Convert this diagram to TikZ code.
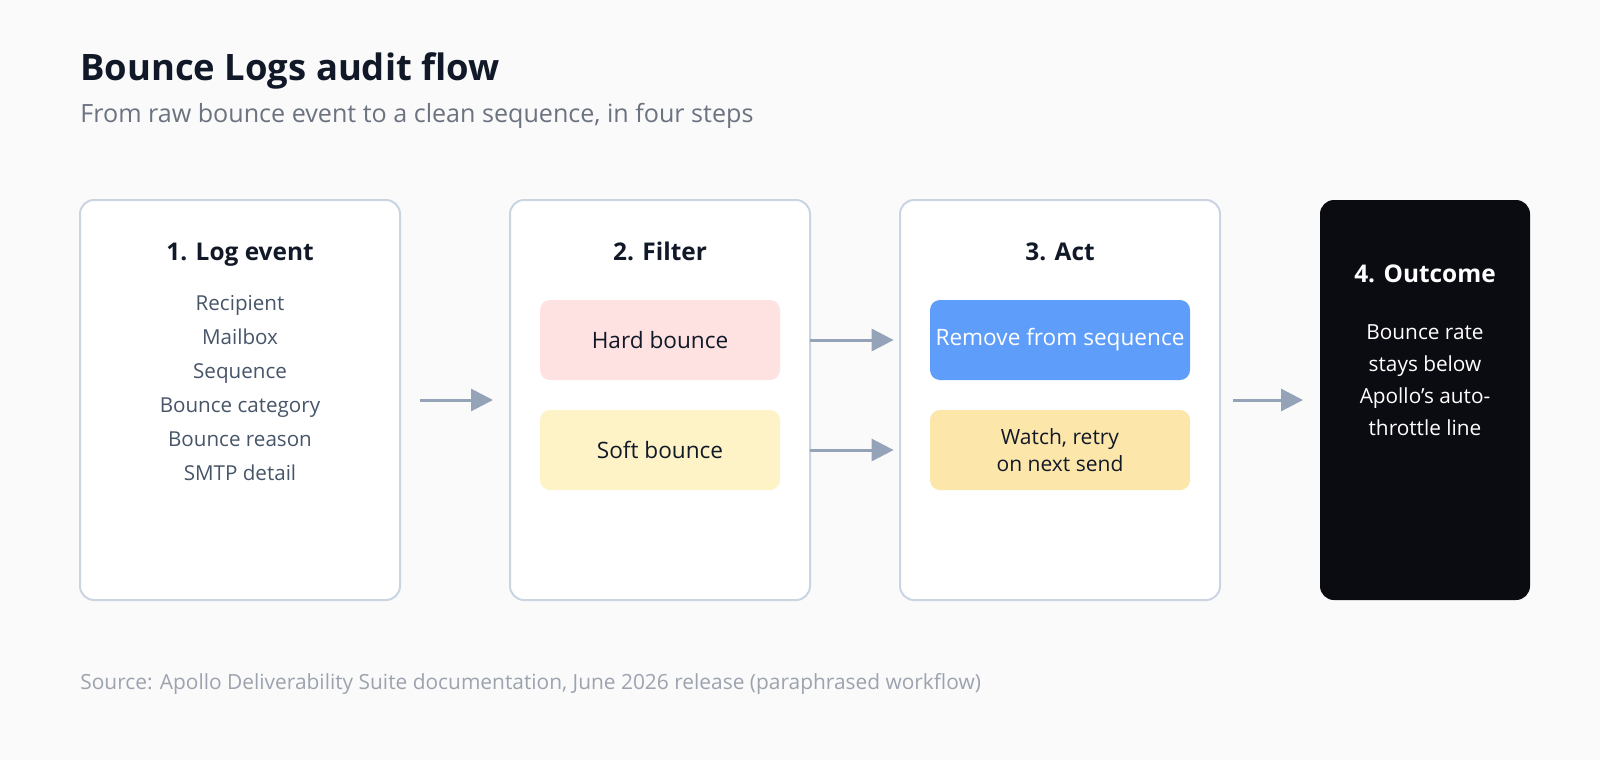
\documentclass[tikz,border=0pt]{standalone}
\usepackage{fontspec}
\setmainfont{Open Sans}
\usetikzlibrary{arrows.meta}

\definecolor{pagebg}{HTML}{FAFAFA}
\definecolor{ink}{HTML}{111827}
\definecolor{subink}{HTML}{6B7280}
\definecolor{listink}{HTML}{475569}
\definecolor{srcink}{HTML}{9CA3AF}
\definecolor{cardline}{HTML}{CBD5E1}
\definecolor{arrowc}{HTML}{94A3B8}
\definecolor{hardfill}{HTML}{FEE2E2}
\definecolor{softfill}{HTML}{FEF3C7}
\definecolor{removefill}{HTML}{5E9EFA}
\definecolor{watchfill}{HTML}{FDE6AA}
\definecolor{darkcard}{HTML}{0B0B12}

\begin{document}
\begin{tikzpicture}[x=0.5pt,y=-0.5pt,
  card/.style={draw=cardline,line width=1pt,fill=white,rounded corners=7pt,minimum height=200pt,inner sep=0pt},
  chip/.style={rounded corners=5pt,minimum height=40pt,inner sep=0pt,align=center,text=ink,font=\fontsize{11.3}{13.5}\selectfont},
  flow/.style={-{Triangle[length=11pt,width=11pt]},line width=1.5pt,draw=arrowc},
  cardtitle/.style={anchor=base,inner sep=0pt,text=ink,font=\fontsize{12.2}{14}\selectfont\bfseries},
  cardtext/.style={anchor=base,inner sep=0pt,text=listink,font=\fontsize{10.3}{12}\selectfont}]
\fill[pagebg] (0,0) rectangle (1600,760);
\useasboundingbox (0,0) rectangle (1600,760);

\node[anchor=base west,inner sep=0pt,text=ink,font=\fontsize{18.2}{21}\selectfont\bfseries] (title) at (80,80) {Bounce Logs audit flow};
\node[anchor=base west,inner sep=0pt,text=subink,font=\fontsize{12.55}{15}\selectfont] (subtitle) at (80,122) {From raw bounce event to a clean sequence, in four steps};

% cards
\node[card,minimum width=160pt] (log) at (240,400) {};
\node[card,minimum width=150pt] (filter) at (660,400) {};
\node[card,minimum width=160pt] (act) at (1060,400) {};
\node[card,draw=none,fill=darkcard,minimum width=105pt] (outcome) at (1425,400) {};

\node[cardtitle] (logtitle) at (240,260) {1. Log event};
\foreach \field [count=\i] in {Recipient,Mailbox,Sequence,Bounce category,Bounce reason,SMTP detail}
  \node[cardtext] (field\i) at (240,276+34*\i) {\field};

\node[cardtitle] (filtertitle) at (660,260) {2. Filter};
\node[chip,fill=hardfill,minimum width=120pt] (hard) at (660,340) {Hard bounce};
\node[chip,fill=softfill,minimum width=120pt] (soft) at (660,450) {Soft bounce};

\node[cardtitle] (acttitle) at (1060,260) {3. Act};
\node[chip,fill=removefill,text=white,minimum width=130pt] (remove) at (1060,340) {Remove from sequence};
\node[chip,fill=watchfill,minimum width=130pt,font=\fontsize{10.5}{13.5}\selectfont] (watch) at (1060,450) {Watch, retry\\on next send};

\node[cardtitle,text=white] (outcometitle) at (1425,282) {4. Outcome};
\foreach \ln [count=\i] in {Bounce rate,stays below,Apollo's auto-,throttle line}
  \node[cardtext,text=white,font=\fontsize{10.4}{12}\selectfont] (result\i) at (1425,307+32*\i) {\ln};

% connectors
\draw[flow,shorten <=9.5pt,shorten >=8pt] (log.east) -- (filter.west);
\draw[flow,shorten <=15pt,shorten >=18pt] (hard.east) -- (remove.west);
\draw[flow,shorten <=15pt,shorten >=18pt] (soft.east) -- (watch.west);
\draw[flow,shorten <=6pt,shorten >=8pt] (act.east) -- (outcome.west);

\node[anchor=base west,inner sep=0pt,text=srcink,font=\fontsize{10.45}{12}\selectfont] (source) at (80,689) {Source: Apollo Deliverability Suite documentation, June 2026 release (paraphrased workflow)};
\end{tikzpicture}
\end{document}
